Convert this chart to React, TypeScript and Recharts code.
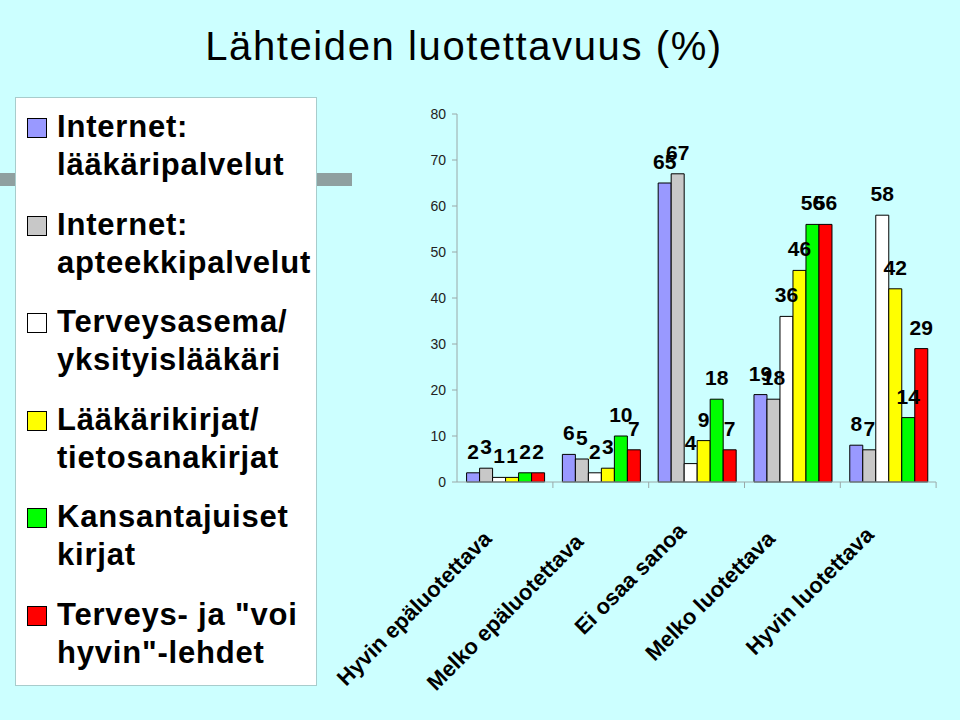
import React from 'react';
import { BarChart, Bar, XAxis, YAxis, LabelList } from 'recharts';

const categories = [
  'Hyvin epäluotettava',
  'Melko epäluotettava',
  'Ei osaa sanoa',
  'Melko luotettava',
  'Hyvin luotettava',
];

const internetLaakari = [2, 6, 65, 19, 8];
const internetApteekki = [3, 5, 67, 18, 7];
const terveysasema = [1, 2, 4, 36, 58];
const laakarikirjat = [1, 3, 9, 46, 42];
const kansantajuiset = [2, 10, 18, 56, 14];
const terveysLehdet = [2, 7, 7, 56, 29];

const yTicks = [0, 10, 20, 30, 40, 50, 60, 70, 80];

const series = [
  { key: 'a', name: ['Internet:', 'lääkäripalvelut'], values: internetLaakari, color: '#9999ff' },
  { key: 'b', name: ['Internet:', 'apteekkipalvelut'], values: internetApteekki, color: '#c8c8c8' },
  { key: 'c', name: ['Terveysasema/', 'yksityislääkäri'], values: terveysasema, color: '#ffffff' },
  { key: 'd', name: ['Lääkärikirjat/', 'tietosanakirjat'], values: laakarikirjat, color: '#ffff00' },
  { key: 'e', name: ['Kansantajuiset', 'kirjat'], values: kansantajuiset, color: '#00ff00' },
  { key: 'f', name: ['Terveys- ja "voi', 'hyvin"-lehdet'], values: terveysLehdet, color: '#ff0000' },
];

const data = categories.map((cat, i) => {
  const row: Record<string, string | number> = { cat };
  series.forEach((s) => {
    row[s.key] = s.values[i];
  });
  return row;
});

const FONT = '"Liberation Sans", Arial, sans-serif';
const BG = '#ccffff';
const AXIS = '#9aa8a8';

// rotated category labels end slightly left of the category centre (excel placement)
const LABEL_DX = [-12, -16, -9, -16, -13];
const LABEL_DY = [58, 61, 50, 58, 54];

function CategoryTick(props: any) {
  const { x, y, payload, index } = props;
  const tx = x + LABEL_DX[index];
  const ty = y + LABEL_DY[index];
  return (
    <g>
      <line x1={x + 48} y1={y} x2={x + 48} y2={y + 6} stroke={AXIS} strokeWidth={1} />
      <text
        x={tx}
        y={ty}
        transform={`rotate(-45 ${tx} ${ty})`}
        textAnchor="end"
        fontFamily={FONT}
        fontWeight="bold"
        fontSize={22}
        fill="#000"
      >
        {payload.value}
      </text>
    </g>
  );
}

export default function App() {
  return (
    <div
      style={{
        position: 'absolute',
        left: 0,
        top: 0,
        width: 960,
        height: 720,
        background: BG,
        overflow: 'hidden',
        fontFamily: FONT,
      }}
    >
      {/* template stripe behind the legend */}
      <div style={{ position: 'absolute', left: 0, top: 173, width: 352, height: 13, background: '#8fa0a0' }} />

      <div
        style={{
          position: 'absolute',
          left: 0,
          top: 21,
          width: 928,
          textAlign: 'center',
          fontSize: 40,
          letterSpacing: 1.6,
          color: '#000',
          lineHeight: '50px',
        }}
      >
        Lähteiden luotettavuus (%)
      </div>

      <div
        style={{
          position: 'absolute',
          left: 15,
          top: 97,
          width: 302,
          height: 589,
          background: '#fff',
          border: '1px solid #a8cccc',
          boxSizing: 'border-box',
        }}
      >
        {series.map((s, i) => (
          <div key={s.key} style={{ position: 'absolute', left: 0, top: 10 + i * 97.6, width: 300 }}>
            <div
              style={{
                position: 'absolute',
                left: 11,
                top: 10,
                width: 20,
                height: 20,
                background: s.color,
                border: '1px solid #000',
                boxSizing: 'border-box',
              }}
            />
            <div
              style={{
                position: 'absolute',
                left: 41,
                top: 0,
                fontSize: 31,
                fontWeight: 'bold',
                letterSpacing: 0.8,
                lineHeight: '38px',
                whiteSpace: 'nowrap',
                color: '#000',
              }}
            >
              {s.name[0]}
              <br />
              {s.name[1]}
            </div>
          </div>
        ))}
      </div>

      <div style={{ position: 'absolute', left: 0, top: 0 }}>
        <BarChart
          width={960}
          height={720}
          data={data}
          margin={{ top: 114, right: 24, bottom: 0, left: 0 }}
          barCategoryGap="10%"
          barGap={0}
        >
          <YAxis
            width={457}
            domain={[0, 80]}
            ticks={yTicks}
            interval={0}
            stroke={AXIS}
            tickSize={5}
            tickMargin={6}
            tick={{ fontSize: 14, fill: '#222', fontFamily: FONT }}
          />
          <XAxis
            dataKey="cat"
            height={238}
            interval={0}
            stroke={AXIS}
            tickLine={false}
            tickSize={0}
            tickMargin={0}
            tick={<CategoryTick />}
          />
          {series.map((s) => (
            <Bar
              key={s.key}
              dataKey={s.key}
              fill={s.color}
              stroke="#000"
              strokeWidth={1}
              isAnimationActive={false}
            >
              <LabelList
                dataKey={s.key}
                position="top"
                offset={14}
                fontSize={21}
                fontWeight="bold"
                fontFamily={FONT}
                fill="#000"
              />
            </Bar>
          ))}
        </BarChart>
      </div>
    </div>
  );
}
